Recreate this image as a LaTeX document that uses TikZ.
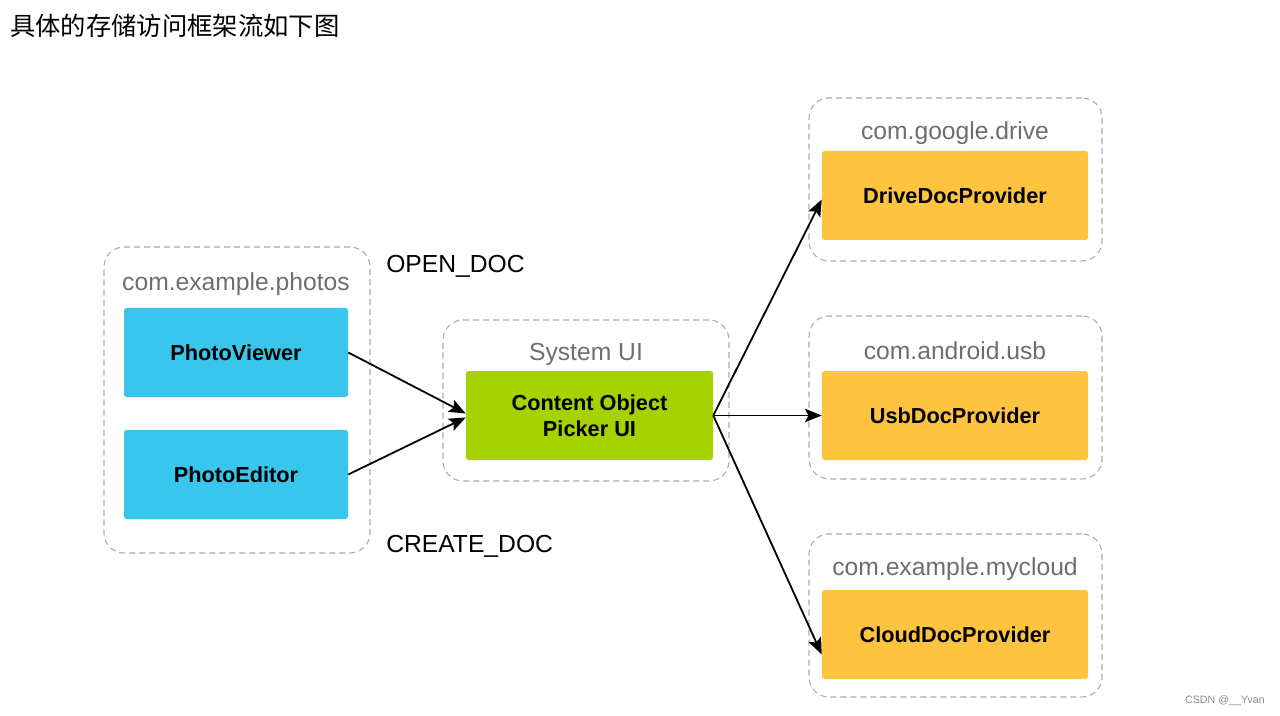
\documentclass[tikz,border=0pt]{standalone}
\usepackage{fontspec}
\setmainfont{Liberation Sans}
\newfontfamily\cjk{Noto Sans CJK SC}
\usetikzlibrary{arrows.meta}
\definecolor{pblue}{HTML}{38C6EC}
\definecolor{pgreen}{HTML}{A5D200}
\definecolor{porange}{HTML}{FFC43F}
\definecolor{lblgray}{HTML}{6E6E6E}
\definecolor{dashgray}{HTML}{ABABAB}
\begin{document}
\begin{tikzpicture}[x=0.75pt,y=-0.75pt,
  group/.style={draw=dashgray,line width=0.8pt,dash pattern=on 4.5pt off 3pt,rounded corners=15pt,inner sep=0pt},
  grplabel/.style={text=lblgray,font=\fontsize{18.5}{22}\selectfont,inner sep=0pt},
  box/.style={rounded corners=2pt,inner sep=0pt,minimum height=66.75pt,font=\fontsize{16.3}{19}\selectfont\bfseries,align=center},
  intent/.style={font=\fontsize{18.5}{22}\selectfont,anchor=west,inner sep=0pt},
  flow/.style={line width=1.35pt,-{Stealth[length=12.5pt,width=10pt,inset=2.5pt]}}]
\useasboundingbox (0,0) rectangle (1280,716);
\node[anchor=west,inner sep=0pt,font=\cjk\fontsize{19}{22}\selectfont] (title) at (10,26) {具体的存储访问框架流如下图};

% left group
\node[group,minimum width=199.5pt,minimum height=229.5pt] (gphotos) at (237,400) {};
\node[grplabel] (lphotos) at (236,284) {com.example.photos};
\node[box,fill=pblue,minimum width=168pt] (pv) at (236,352.5) {PhotoViewer};
\node[box,fill=pblue,minimum width=168pt] (pe) at (236,474.5) {PhotoEditor};

\node[intent] (open) at (386,266) {OPEN\_DOC};
\node[intent] (create) at (386,546) {CREATE\_DOC};

% middle group
\node[group,minimum width=214.5pt,minimum height=120.75pt] (gsys) at (586,400.5) {};
\node[grplabel] (lsys) at (586,354) {System UI};
\node[box,fill=pgreen,minimum width=185.25pt,font=\fontsize{16.3}{19.5}\selectfont\bfseries] (cp) at (589.5,415.5) {Content Object\\Picker UI};

% right groups
\node[group,minimum width=219.75pt,minimum height=122.25pt] (gdrive) at (955.5,179.5) {};
\node[grplabel] (ldrive) at (955,133) {com.google.drive};
\node[box,fill=porange,minimum width=199.5pt] (drive) at (955,195.5) {DriveDocProvider};

\node[group,minimum width=219.75pt,minimum height=122.25pt] (gusb) at (955.5,397.5) {};
\node[grplabel] (lusb) at (955,351) {com.android.usb};
\node[box,fill=porange,minimum width=199.5pt] (usb) at (955,415.5) {UsbDocProvider};

\node[group,minimum width=219.75pt,minimum height=122.25pt] (gcloud) at (955.5,615.5) {};
\node[grplabel] (lcloud) at (955,569) {com.example.mycloud};
\node[box,fill=porange,minimum width=199.5pt] (cloud) at (955,634.5) {CloudDocProvider};

% connectors
\draw[flow] (pv.east) -- ([yshift=1.5pt]cp.west);
\draw[flow] (pe.east) -- ([yshift=-1.5pt]cp.west);
\draw[flow] (cp.east) -- ([yshift=-3pt]drive.west);
\draw[flow] (cp.east) -- (usb.west);
\draw[flow] (cp.east) -- ([yshift=-15pt]cloud.west);

\node[anchor=east,inner sep=0pt,text=lblgray!80,font=\fontsize{8}{10}\selectfont] (wm) at (1265,701) {CSDN @\_\_Yvan};
\end{tikzpicture}
\end{document}
